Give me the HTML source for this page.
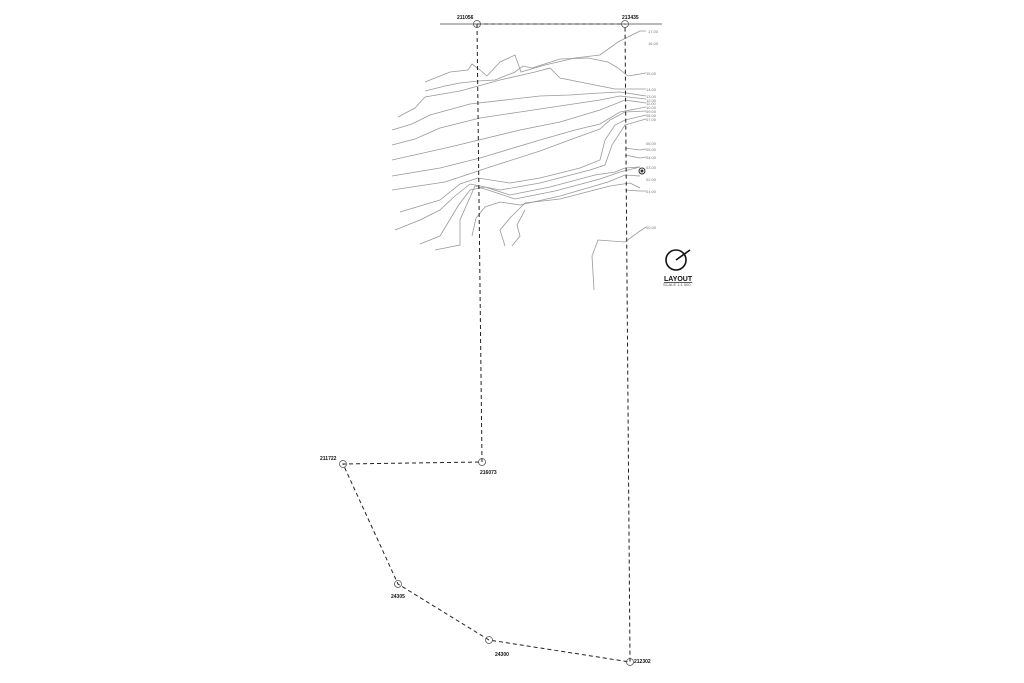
<!DOCTYPE html>
<html><head><style>html,body{margin:0;padding:0;background:#fff}svg{display:block}</style></head><body>
<svg width="1024" height="683" viewBox="0 0 1024 683" xmlns="http://www.w3.org/2000/svg" font-family="Liberation Sans, sans-serif">
<g fill="none" stroke="#999" stroke-width="0.8">
<polyline points="425,82 450,72 468,70 472,64 480,70 487,76 500,62 515,55 521,72 545,65 575,58 600,55 618,42 640,31 646,31"/>
<polyline points="425,91 445,86 460,83 478,81 495,80 515,72 523,66 532,68 560,59 588,58 608,62 618,68 628,76 640,74 646,73"/>
<polyline points="398,117 415,108 425,97 460,91 500,80 535,72 550,68 560,78 590,84 615,89 646,89"/>
<polyline points="392,130 412,124 430,115 470,104 540,96 570,95 600,93 620,92 646,96"/>
<polyline points="392,145 415,139 440,128 480,118 520,112 560,106 600,100 620,96 646,99"/>
<polyline points="392,160 450,147 520,130 560,122 600,110 625,100 646,103"/>
<polyline points="392,176 440,168 480,158 540,140 575,130 600,124 620,112 646,107"/>
<polyline points="392,190 445,182 490,167 540,151 575,138 600,129 610,120 625,112 646,111"/>
<polyline points="400,212 440,200 460,184 478,178 510,183 540,178 580,168 600,160 605,140 615,125 625,120 646,115"/>
<polyline points="395,230 420,220 440,210 455,196 470,184 500,190 540,183 590,170 605,165 612,145 625,125 646,119"/>
<polyline points="420,244 440,236 458,206 470,190 485,187 510,195 550,187 595,175 615,172 625,168 640,167"/>
<polyline points="435,250 460,245 460,220 475,186 488,190 515,199 555,191 600,179 620,172 640,167"/>
<polyline points="472,236 476,218 485,207 500,202 520,205 560,196 608,182 625,175 640,176"/>
<polyline points="505,246 500,230 510,218 525,203 560,199 610,186 630,183 640,188"/>
<polyline points="512,246 520,236 517,225 525,210"/>
<polyline points="625,148 640,150 646,149"/>
<polyline points="625,155 640,158 646,157"/>
<polyline points="625,190 640,191 646,191"/>
<polyline points="594,290 592,256 598,240 625,242 640,231 646,227"/>
</g>
<g font-size="4" fill="#777">
<text x="648" y="33">17.00</text><text x="648" y="45">16.00</text><text x="646" y="75">15.00</text><text x="646" y="91">14.00</text>
<text x="646" y="98">13.00</text><text x="646" y="102">12.00</text><text x="646" y="105">11.00</text><text x="646" y="109">10.00</text>
<text x="646" y="113">09.00</text><text x="646" y="117">08.00</text><text x="646" y="121">07.00</text><text x="646" y="145">06.00</text>
<text x="646" y="151">05.00</text><text x="646" y="159">04.00</text><text x="646" y="169">03.00</text><text x="646" y="181">02.00</text>
<text x="646" y="193">01.00</text><text x="646" y="229">00.00</text>
</g>
<g fill="none" stroke="#222" stroke-width="1" stroke-dasharray="4,3">
<polyline points="477,24 625,24"/>
<polyline points="477,24 482,462 343,464 398,584 489,640 630,662 625,24"/>
</g>
<line x1="440" y1="24" x2="662" y2="24" stroke="#444" stroke-width="0.8"/>
<g fill="none" stroke="#555" stroke-width="0.8">
<circle cx="477" cy="24" r="3.5"/><circle cx="625" cy="24" r="3.5"/><circle cx="482" cy="462" r="3.5"/>
<circle cx="343" cy="464" r="3.5"/><circle cx="398" cy="584" r="3.5"/><circle cx="489" cy="640" r="3.5"/><circle cx="630" cy="662" r="3.5"/>
</g>
<circle cx="642" cy="171" r="3" fill="none" stroke="#333"/><circle cx="642" cy="171" r="1.5" fill="#333"/>
<g font-size="5" font-weight="bold" fill="#111">
<text x="457" y="19">211056</text><text x="622" y="19">213435</text><text x="320" y="460">211722</text>
<text x="480" y="474">216073</text><text x="391" y="598">24305</text><text x="495" y="656">24300</text><text x="634" y="663">212302</text>
</g>
<g stroke="#111" stroke-width="1.6" fill="none">
<circle cx="676" cy="260" r="10"/><line x1="676" y1="260" x2="690" y2="250"/>
</g>
<text x="664" y="281" font-size="7" font-weight="bold" fill="#111" text-decoration="underline">LAYOUT</text>
<text x="663" y="286" font-size="4" fill="#555">SCALE 1:1 500</text>
</svg>
</body></html>
